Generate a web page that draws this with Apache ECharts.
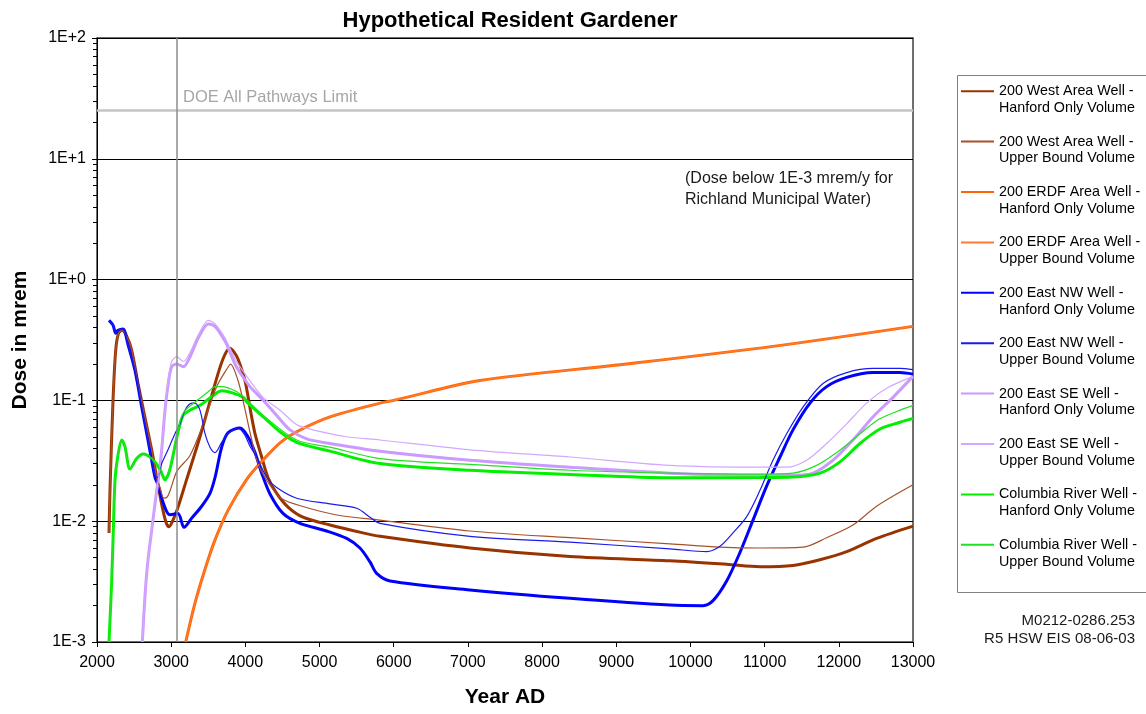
<!DOCTYPE html>
<html>
<head>
<meta charset="utf-8">
<script src="https://cdn.jsdelivr.net/npm/echarts@6/dist/echarts.min.js"></script>
<style>html,body{margin:0;padding:0;background:#fff}#c{width:1146px;height:714px}</style>
</head>
<body>
<div id="c"></div>
<script>
// ---- data: [Year AD, dose mrem] ----
const westHanford = [[2162,0.008],[2175,0.018],[2216,0.1],[2252,0.26],[2290,0.36],[2337,0.38],[2400,0.34],[2468,0.26],[2553,0.138],[2647,0.072],[2737,0.039],[2805,0.023],[2870,0.014],[2930,0.0098],[2971,0.009],[3024,0.0102],[3078,0.0123],[3209,0.0222],[3388,0.05],[3564,0.12],[3698,0.22],[3793,0.27],[3850,0.25],[3901,0.22],[3995,0.146],[4062,0.087],[4130,0.053],[4220,0.034],[4305,0.023],[4422,0.017],[4575,0.0131],[4777,0.0108],[5141,0.0093],[5586,0.008],[5815,0.0075],[7028,0.006],[8376,0.0051],[9724,0.0047],[10488,0.0044],[10937,0.0042],[11382,0.0043],[11746,0.0048],[12106,0.0056],[12510,0.0072],[13000,0.0091]];
const westUpper = [[2162,0.008],[2175,0.018],[2216,0.1],[2252,0.26],[2290,0.36],[2337,0.38],[2400,0.34],[2468,0.26],[2553,0.138],[2647,0.072],[2737,0.039],[2805,0.023],[2850,0.019],[2900,0.0155],[2950,0.016],[3000,0.019],[3078,0.026],[3254,0.035],[3433,0.064],[3613,0.13],[3770,0.19],[3800,0.2],[3901,0.146],[3990,0.087],[4076,0.05],[4170,0.03],[4305,0.021],[4480,0.0155],[4800,0.0131],[5250,0.0112],[5815,0.0102],[7028,0.0083],[8376,0.0073],[9724,0.0065],[10398,0.0061],[10937,0.006],[11517,0.0061],[11836,0.0073],[12190,0.0093],[12510,0.0133],[13000,0.02]];
const erdfHanford = [[3196,0.001],[3321,0.0021],[3456,0.004],[3591,0.007],[3766,0.0123],[4018,0.0222],[4238,0.032],[4467,0.0445],[4692,0.055],[5141,0.073],[5815,0.095],[6000,0.1],[7163,0.146],[9140,0.2],[11112,0.28],[13000,0.41]];
const erdfUpper = [[3196,0.001],[3321,0.0021],[3456,0.004],[3591,0.007],[3766,0.0123],[4018,0.0222],[4238,0.032],[4467,0.0445],[4692,0.055],[5141,0.073],[5815,0.095],[6000,0.1],[7163,0.146],[9140,0.2],[11112,0.28],[13000,0.41]];
const nwHanford = [[2162,0.46],[2216,0.42],[2252,0.36],[2283,0.38],[2350,0.39],[2418,0.29],[2512,0.177],[2603,0.088],[2687,0.047],[2782,0.023],[2822,0.02],[2872,0.0155],[2940,0.012],[2984,0.0113],[3092,0.0116],[3173,0.0089],[3277,0.0106],[3411,0.0133],[3523,0.017],[3591,0.023],[3681,0.041],[3766,0.054],[3928,0.059],[4035,0.05],[4130,0.037],[4220,0.025],[4332,0.0168],[4507,0.0116],[4736,0.0096],[5096,0.0083],[5366,0.0072],[5545,0.006],[5680,0.0046],[5770,0.0037],[5950,0.0032],[7028,0.0027],[8376,0.0023],[9724,0.00202],[10169,0.002],[10304,0.0022],[10488,0.0032],[10667,0.0055],[10843,0.0102],[11028,0.0196],[11207,0.034],[11382,0.057],[11611,0.095],[11836,0.13],[12106,0.155],[12460,0.17],[12824,0.17],[13000,0.165]];
const nwUpper = [[2162,0.46],[2216,0.42],[2252,0.36],[2283,0.38],[2350,0.39],[2418,0.29],[2512,0.177],[2603,0.088],[2687,0.047],[2782,0.024],[2820,0.023],[2872,0.03],[2940,0.037],[3051,0.053],[3119,0.064],[3186,0.083],[3277,0.095],[3321,0.095],[3388,0.083],[3456,0.053],[3523,0.041],[3591,0.037],[3681,0.045],[3766,0.053],[3901,0.059],[3990,0.052],[4060,0.042],[4153,0.034],[4288,0.023],[4422,0.019],[4692,0.0155],[5141,0.0139],[5501,0.0128],[5680,0.0108],[5815,0.0096],[7028,0.0075],[8376,0.0067],[9724,0.0059],[10219,0.0056],[10398,0.0062],[10573,0.008],[10758,0.0109],[10937,0.018],[11112,0.032],[11297,0.053],[11517,0.088],[11786,0.138],[12106,0.17],[12460,0.184],[12824,0.184],[13000,0.18]];
const seHanford = [[2611,0.001],[2647,0.0024],[2683,0.0045],[2737,0.0084],[2805,0.018],[2827,0.022],[2872,0.039],[2917,0.083],[2962,0.14],[3007,0.19],[3075,0.2],[3164,0.19],[3254,0.23],[3366,0.33],[3501,0.43],[3591,0.41],[3725,0.31],[3793,0.25],[3860,0.2],[3928,0.17],[4062,0.13],[4242,0.1],[4422,0.075],[4602,0.057],[4827,0.048],[5141,0.044],[5815,0.038],[7028,0.032],[8376,0.028],[9724,0.025],[10937,0.024],[11382,0.024],[11652,0.025],[11922,0.032],[12191,0.047],[12460,0.073],[12730,0.106],[13000,0.158]];
const seUpper = [[2611,0.001],[2647,0.0024],[2683,0.0045],[2737,0.0084],[2805,0.018],[2827,0.022],[2872,0.039],[2917,0.085],[2962,0.15],[3007,0.21],[3075,0.23],[3164,0.21],[3254,0.25],[3366,0.35],[3501,0.46],[3591,0.43],[3725,0.33],[3793,0.27],[3860,0.22],[3928,0.19],[4062,0.145],[4238,0.106],[4467,0.083],[4692,0.063],[4912,0.057],[5366,0.05],[5815,0.047],[7028,0.039],[8376,0.034],[9724,0.029],[10937,0.028],[11297,0.028],[11566,0.032],[11836,0.044],[12106,0.064],[12375,0.095],[12645,0.126],[13000,0.158]];
const colHanford = [[2162,0.001],[2198,0.0032],[2220,0.0084],[2243,0.022],[2279,0.034],[2333,0.047],[2378,0.041],[2445,0.027],[2535,0.033],[2624,0.036],[2737,0.033],[2849,0.027],[2917,0.022],[2984,0.027],[3078,0.05],[3159,0.075],[3254,0.083],[3388,0.091],[3568,0.11],[3681,0.12],[3815,0.116],[3971,0.106],[4018,0.097],[4242,0.073],[4467,0.055],[4692,0.045],[5141,0.038],[5815,0.030],[7028,0.0264],[8376,0.0244],[9724,0.0229],[10937,0.023],[11382,0.0232],[11746,0.025],[12016,0.031],[12285,0.044],[12555,0.058],[12824,0.066],[13000,0.071]];
const colUpper = [[2162,0.001],[2198,0.0032],[2220,0.0084],[2243,0.022],[2279,0.034],[2333,0.047],[2378,0.041],[2445,0.027],[2535,0.033],[2624,0.036],[2737,0.033],[2849,0.027],[2917,0.023],[2984,0.028],[3078,0.053],[3159,0.078],[3254,0.09],[3388,0.104],[3500,0.118],[3591,0.13],[3681,0.13],[3860,0.12],[3990,0.105],[4242,0.075],[4692,0.047],[5141,0.041],[5815,0.033],[7028,0.0295],[8376,0.0264],[9724,0.025],[10937,0.0245],[11382,0.025],[11701,0.029],[11971,0.037],[12240,0.05],[12510,0.068],[12780,0.081],[13000,0.091]];

const doeLimit = 25;
const refYear = 3080;
const xTicks = {min: 2000, max: 13000, step: 1000};
const yTicks = {min: 0.001, max: 100};

const names = [
  '200 West Area Well -\nHanford Only Volume',
  '200 West Area Well -\nUpper Bound Volume',
  '200 ERDF Area Well -\nHanford Only Volume',
  '200 ERDF Area Well -\nUpper Bound Volume',
  '200 East NW Well -\nHanford Only Volume',
  '200 East NW Well -\nUpper Bound Volume',
  '200 East SE Well -\nHanford Only Volume',
  '200 East SE Well -\nUpper Bound Volume',
  'Columbia River Well -\nHanford Only Volume',
  'Columbia River Well -\nUpper Bound Volume'
];
const datasets = [westHanford, westUpper, erdfHanford, erdfUpper, nwHanford, nwUpper, seHanford, seUpper, colHanford, colUpper];
const colors = ['#993300','#A5522A','#FF6600','#FF7A30','#0000FF','#1A1AEE','#CC99FF','#D2A8FF','#00F000','#22E022'];
const widths = [3,1.2,3,1.2,3,1.2,3,1.2,3,1.2];

const FONT = 'Liberation Sans, Arial, sans-serif';

const series = datasets.map((d, i) => ({
  name: names[i],
  type: 'line',
  data: d,
  showSymbol: false,
  symbol: 'circle',
  symbolSize: 0,
  smooth: 0.3,
  lineStyle: {color: colors[i], width: widths[i]},
  itemStyle: {color: colors[i]},
  emphasis: {disabled: true},
  z: 3 + (i % 2 === 0 ? 0 : 1)
}));

series.push({
  name: 'ref',
  type: 'line',
  data: [],
  silent: true,
  markLine: {
    silent: true,
    symbol: 'none',
    label: {show: false},
    data: [
      {yAxis: doeLimit, lineStyle: {color: '#C4C4C4', width: 2.5, type: 'solid'}},
      {xAxis: refYear, lineStyle: {color: '#8C8C8C', width: 1.5, type: 'solid'}}
    ]
  },
  z: 2
});

const chart = echarts.init(document.getElementById('c'), null, {renderer: 'canvas'});
chart.setOption({
  animation: false,
  backgroundColor: '#fff',
  title: {
    text: 'Hypothetical Resident Gardener',
    left: 505, top: 5, textAlign: 'center',
    textStyle: {fontFamily: FONT, fontWeight: 'bold', fontSize: 22, color: '#000'}
  },
  grid: {left: 97, right: 233, top: 38, bottom: 72, show: true, borderColor: '#404040', borderWidth: 1.5, backgroundColor: '#fff'},
  legend: {
    orient: 'vertical', left: 960, top: 66, padding: 0, itemGap: 0,
    itemWidth: 33, itemHeight: 14, selectedMode: false,
    data: names,
    itemStyle: {opacity: 0, borderWidth: 0},
    formatter: n => '\n' + n,
    textStyle: {fontFamily: FONT, fontSize: 14.3, color: '#000', lineHeight: 16.8}
  },
  xAxis: {
    type: 'value', min: xTicks.min, max: xTicks.max, interval: xTicks.step,
    name: 'Year AD', nameLocation: 'middle', nameGap: 45,
    nameTextStyle: {fontFamily: FONT, fontWeight: 'bold', fontSize: 21, color: '#000'},
    axisLine: {lineStyle: {color: '#000', width: 1}},
    axisTick: {show: true, length: 5, lineStyle: {color: '#000'}},
    axisLabel: {margin: 13, fontFamily: FONT, fontSize: 16, color: '#000', formatter: v => String(v)},
    splitLine: {show: false}
  },
  yAxis: {
    type: 'log', logBase: 10, min: yTicks.min, max: yTicks.max,
    name: 'Dose in mrem', nameLocation: 'middle', nameGap: 66, nameRotate: 90,
    nameTextStyle: {fontFamily: FONT, fontWeight: 'bold', fontSize: 21, color: '#000'},
    axisLine: {show: true, lineStyle: {color: '#000', width: 1}},
    axisTick: {show: true, length: 5, lineStyle: {color: '#000'}},
    minorTick: {show: true, splitNumber: 9, length: 4, lineStyle: {color: '#000'}},
    axisLabel: {margin: 11, fontFamily: FONT, fontSize: 16, color: '#000',
      formatter: v => { const e = Math.round(Math.log10(v)); return '1E' + (e >= 0 ? '+' : '') + e; }},
    splitLine: {show: true, lineStyle: {color: '#000', width: 1}}
  },
  graphic: [
    {type: 'rect', left: 955, top: 73, shape: {width: 200, height: 517}, style: {fill: 'none', stroke: '#808080', lineWidth: 1}, z: 0},
    {type: 'text', left: 183, top: 89, style: {text: 'DOE All Pathways Limit', font: '16.5px "Liberation Sans", Arial', fill: '#A6A6A6'}},
    {type: 'text', left: 685, top: 168, style: {text: '(Dose below 1E-3 mrem/y for\nRichland Municipal Water)', font: '16px "Liberation Sans", Arial', fill: '#1A1A1A', lineHeight: 21}},
    {type: 'text', right: 11, top: 613, style: {text: 'M0212-0286.253', font: '15px "Liberation Sans", Arial', fill: '#1A1A1A', align: 'right'}},
    {type: 'text', right: 11, top: 631, style: {text: 'R5 HSW EIS 08-06-03', font: '15px "Liberation Sans", Arial', fill: '#1A1A1A', align: 'right'}}
  ],
  series: series
});
</script>
</body>
</html>
